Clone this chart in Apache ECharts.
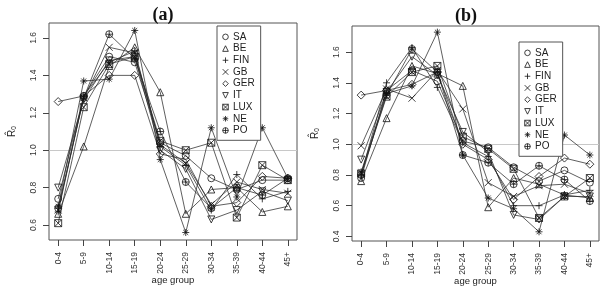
<!DOCTYPE html>
<html>
<head>
<meta charset="utf-8">
<script src="https://cdn.jsdelivr.net/npm/echarts@6/dist/echarts.min.js"></script>
<style>
  html, body { margin: 0; padding: 0; background: #fff; }
  #chart { width: 600px; height: 286px; }
</style>
</head>
<body>
<div id="chart"></div>
<script>
// age groups on the x axis
const ageGroups = ['0-4', '5-9', '10-14', '15-19', '20-24', '25-29', '30-34', '35-39', '40-44', '45+']
const countries = ['SA', 'BE', 'FIN', 'GB', 'GER', 'IT', 'LUX', 'NE', 'PO']

// panel (a)
const saA = [0.74, 1.29, 1.50, 1.47, 1.04, 0.97, 0.85, 0.79, 0.84, 0.84]
const beA = [0.66, 1.02, 1.45, 1.55, 1.31, 0.66, 0.79, 0.80, 0.67, 0.70]
const finA = [0.67, 1.29, 1.47, 1.53, 1.02, 0.92, 0.68, 0.87, 0.74, 0.78]
const gbA = [0.68, 1.28, 1.55, 1.52, 1.03, 0.93, 0.71, 0.83, 0.79, 0.77]
const gerA = [1.26, 1.29, 1.40, 1.40, 0.98, 0.95, 0.70, 0.72, 0.86, 0.85]
const itA = [0.80, 1.27, 1.48, 1.50, 1.00, 0.90, 0.63, 0.68, 0.78, 0.73]
const luxA = [0.61, 1.23, 1.46, 1.50, 1.05, 1.00, 1.04, 0.64, 0.92, 0.84]
const neA = [0.70, 1.37, 1.38, 1.64, 0.95, 0.56, 1.12, 0.75, 1.12, 0.85]
const poA = [0.69, 1.28, 1.62, 1.49, 1.10, 0.83, 0.69, 0.80, 0.76, 0.85]

// panel (b)
const saB = [0.78, 1.35, 1.48, 1.41, 1.02, 0.98, 0.85, 0.76, 0.83, 0.75]
const beB = [0.76, 1.17, 1.51, 1.46, 1.38, 0.59, 0.78, 0.74, 0.67, 0.65]
const finB = [0.80, 1.40, 1.63, 1.37, 1.01, 0.92, 0.60, 0.60, 0.67, 0.70]
const gbB = [0.99, 1.36, 1.30, 1.48, 1.23, 0.75, 0.66, 0.73, 0.74, 0.68]
const gerB = [1.32, 1.35, 1.39, 1.47, 1.00, 0.90, 0.64, 0.79, 0.91, 0.87]
const itB = [0.90, 1.34, 1.57, 1.45, 1.08, 0.95, 0.54, 0.51, 0.66, 0.66]
const luxB = [0.81, 1.31, 1.47, 1.51, 1.05, 0.97, 0.84, 0.52, 0.66, 0.78]
const neB = [0.82, 1.33, 1.38, 1.73, 0.93, 0.65, 0.58, 0.43, 1.06, 0.93]
const poB = [0.80, 1.32, 1.62, 1.47, 0.93, 0.88, 0.74, 0.86, 0.77, 0.63]

const ticksA = [0.6, 0.8, 1.0, 1.2, 1.4, 1.6]
const ticksB = [0.4, 0.6, 0.8, 1.0, 1.2, 1.4, 1.6]

const panelA = [saA, beA, finA, gbA, gerA, itA, luxA, neA, poA]
const panelB = [saB, beB, finB, gbB, gerB, itB, luxB, neB, poB]

// R-like plotting symbols (pch 1..10)
const symbols = [
    'circle',
    'triangle',
    'path://M5,0L5,10M0,5L10,5',
    'path://M0,0L10,10M10,0L0,10',
    'diamond',
    'path://M0,0L10,0L5,9Z',
    'path://M0,0L10,0L10,10L0,10ZM0,0L10,10M10,0L0,10',
    'path://M5,0L5,10M0,5L10,5M1.5,1.5L8.5,8.5M8.5,1.5L1.5,8.5',
    'path://M0,5A5,5 0 1 1 10,5A5,5 0 1 1 0,5ZM5,0L5,10M0,5L10,5',
]

const font = 'Liberation Sans'
const xPos = ageGroups.map((g, i) => i + 1)

function makeSeries(values, idx, panel) {
    const s = {
        name: countries[idx],
        type: 'line',
        xAxisIndex: panel,
        yAxisIndex: panel,
        data: values.map((v, i) => [xPos[i], v]),
        symbol: symbols[idx],
        symbolSize: idx === 4 ? 8 : 7,
        showAllSymbol: true,
        itemStyle: {
            color: 'rgba(255,255,255,0)',
            borderColor: '#111',
            borderWidth: 0.8,
        },
        lineStyle: { color: '#2a2a2a', width: 0.75 },
        emphasis: { disabled: true },
        animation: false,
        z: 3,
    }
    if (idx === 0) {
        s.markLine = {
            silent: true,
            symbol: 'none',
            label: { show: false },
            lineStyle: { color: '#c8c8c8', width: 1, type: 'solid' },
            data: [{ yAxis: 1 }],
            z: 1,
        }
    }
    return s
}

function xAxisFor(panel) {
    return {
        type: 'value',
        gridIndex: panel,
        min: 0.64,
        max: 10.36,
        name: 'age group',
        nameLocation: 'middle',
        nameGap: 35,
        nameMoveOverlap: false,
        nameTextStyle: { fontFamily: font, fontSize: 9.5, color: '#222' },
        axisLine: { show: false },
        axisTick: { show: true, length: 6, customValues: xPos, lineStyle: { color: '#444' } },
        axisLabel: {
            customValues: xPos,
            rotate: 90,
            margin: 12,
            fontFamily: font,
            fontSize: 8.5,
            color: '#333',
            formatter: v => ageGroups[Math.round(v) - 1],
        },
        splitLine: { show: false },
    }
}

function yAxisFor(panel, min, max, ticks) {
    return {
        type: 'value',
        gridIndex: panel,
        min: min,
        max: max,
        name: '{r|R̂}{s|0}',
        nameLocation: 'middle',
        nameGap: 31,
        nameMoveOverlap: false,
        nameRotate: 90,
        nameTextStyle: {
            rich: {
                r: { fontFamily: font, fontSize: 10, color: '#222' },
                s: { fontFamily: font, fontSize: 6.5, color: '#222', padding: [5, 0, 0, 0] },
            },
        },
        axisLine: { show: false },
        axisTick: { show: true, length: 6, customValues: ticks, lineStyle: { color: '#444' } },
        axisLabel: {
            customValues: ticks,
            rotate: 90,
            margin: 11,
            fontFamily: font,
            fontSize: 8.5,
            color: '#333',
            formatter: v => v.toFixed(1),
        },
        splitLine: { show: false },
    }
}

function legendFor(panel, left, top) {
    return {
        orient: 'vertical',
        left: left,
        top: top,
        data: countries,
        padding: [5, 6, 4, 5],
        itemGap: 0,
        itemWidth: 7,
        itemHeight: 7,
        borderColor: '#555',
        borderWidth: 1,
        backgroundColor: '#fff',
        borderRadius: 0,
        selectedMode: false,
        itemStyle: { color: 'rgba(255,255,255,0)', borderColor: '#111', borderWidth: 0.8 },
        lineStyle: { width: 0, opacity: 0 },
        textStyle: { fontFamily: font, fontSize: 10, color: '#222', lineHeight: 11.7, padding: [0, 0, 0, -1] },
        z: 5,
    }
}

const chart = echarts.init(document.getElementById('chart'), null, { renderer: 'canvas' })

const series = []
panelA.forEach((vals, i) => series.push(makeSeries(vals, i, 0)))
panelB.forEach((vals, i) => series.push(makeSeries(vals, i, 1)))

chart.setOption({
    backgroundColor: '#fff',
    animation: false,
    title: [
        {
            text: '(a)',
            left: 158,
            top: 1,
            textAlign: 'center',
            textStyle: { fontFamily: 'Liberation Serif', fontWeight: 'bold', fontSize: 18, color: '#111' },
        },
        {
            text: '(b)',
            left: 461,
            top: 2,
            textAlign: 'center',
            textStyle: { fontFamily: 'Liberation Serif', fontWeight: 'bold', fontSize: 18, color: '#111' },
        },
    ],
    grid: [
        { left: 49, top: 23, width: 248, height: 217, outerBoundsMode: 'none', show: true, borderColor: '#555', borderWidth: 1, backgroundColor: 'transparent' },
        { left: 352, top: 26, width: 247, height: 215, outerBoundsMode: 'none', show: true, borderColor: '#555', borderWidth: 1, backgroundColor: 'transparent' },
    ],
    xAxis: [xAxisFor(0), xAxisFor(1)],
    yAxis: [yAxisFor(0, 0.52, 1.68, ticksA), yAxisFor(1, 0.37, 1.77, ticksB)],
    legend: [legendFor(0, 217, 26), legendFor(1, 519, 42)],
    series: series,
})
</script>
</body>
</html>
